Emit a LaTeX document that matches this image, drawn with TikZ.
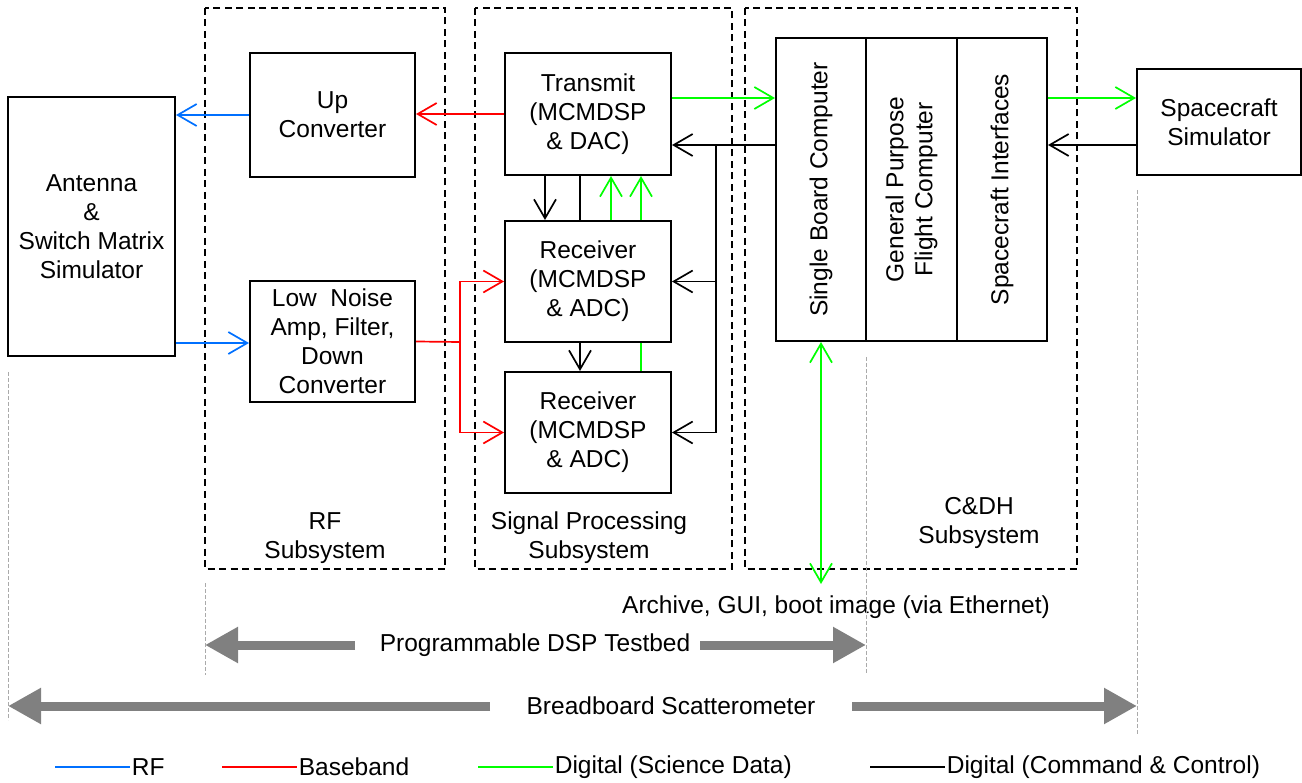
\documentclass[tikz,border=0pt]{standalone}
\usepackage{fontspec}
\setmainfont{Liberation Sans}
\usetikzlibrary{arrows.meta,positioning,calc}
\definecolor{rfblue}{RGB}{0,112,255}
\definecolor{bbred}{RGB}{255,0,0}
\definecolor{sdgreen}{RGB}{0,255,0}
\definecolor{bargray}{RGB}{128,128,128}
\definecolor{guidegray}{RGB}{170,170,170}

\begin{document}
\begin{tikzpicture}[x=1pt, y=-1pt, font=\fontsize{24.5}{29}\selectfont,
  >={Straight Barb[length=19pt,width=22pt]},
  b/.style={rectangle, draw, line width=2pt, align=center, inner sep=0pt},
  sub/.style={draw, line width=1.8pt, dash pattern=on 7pt off 4.5pt},
  rf/.style={draw=rfblue, line width=1.7pt},
  bb/.style={draw=bbred, line width=1.7pt},
  sd/.style={draw=sdgreen, line width=1.7pt},
  cc/.style={draw=black, line width=1.7pt},
  guide/.style={draw=guidegray, line width=0.9pt, dash pattern=on 4pt off 2pt},
  bar/.style={draw=bargray, line width=9pt, -{Triangle[length=33pt,width=34pt]}},
  lg/.style={right, inner sep=1pt}]
  \useasboundingbox (0,0) rectangle (1302,783);

  \draw[sub] (205,8) rectangle (445,569);
  \draw[sub] (475,8) rectangle (732,569);
  \draw[sub] (745,8) rectangle (1077,569);
  \node[align=center] (rfsub) at (325,538) {RF\\Subsystem};
  \node[align=center] (spsub) at (589,538) {Signal Processing\\Subsystem};
  \node[align=center] (cdhsub) at (979,523) {C\&DH\\Subsystem};

  \node[b, minimum width=167pt, minimum height=259pt] (ant) at (91.5,226.5)
       {Antenna\\\&\\Switch Matrix\\Simulator};
  \node[b, minimum width=165pt, minimum height=124pt] (upc) at (332.5,115)
       {Up\\Converter};
  \node[b, minimum width=165pt, minimum height=121pt] (lna) at (332.5,341.5)
       {Low\ \ Noise\\Amp, Filter,\\Down\\Converter};
  \node[b, minimum width=166pt, minimum height=122pt] (tx) at (588,114)
       {Transmit\\(MCMDSP\\\& DAC)};
  \node[b, minimum width=166pt, minimum height=121pt] (rx1) at (588,281.5)
       {Receiver\\(MCMDSP\\\& ADC)};
  \node[b, minimum width=166pt, minimum height=121pt] (rx2) at (588,432.5)
       {Receiver\\(MCMDSP\\\& ADC)};
  \node[b, minimum width=90pt, minimum height=303pt] (sbc) at (821,189.5) {};
  \node[b, minimum width=91pt, minimum height=303pt] (gpc) at (911.5,189.5) {};
  \node[b, minimum width=90pt, minimum height=303pt] (sci) at (1002,189.5) {};
  \node[rotate=90] at (sbc.center) {Single Board Computer};
  \node[rotate=90, align=center] at (gpc.center) {General Purpose\\Flight Computer};
  \node[rotate=90] at (sci.center) {Spacecraft Interfaces};
  \node[b, minimum width=164pt, minimum height=106pt] (scs) at (1219,122)
       {Spacecraft\\Simulator};

  \draw[rf,->] (upc.west) -- (upc.west -| ant.east);
  \draw[rf,->] ([yshift=-1.5pt]lna.west -| ant.east) -- ([yshift=-1.5pt]lna.west);
  \draw[bb,->] (tx.west) -- (tx.west -| upc.east);
  \coordinate (split) at (460,342);
  \draw[bb] (lna.east) -- (split);
  \draw[bb,->] (split) |- (rx1.west);
  \draw[bb,->] (split) |- (rx2.west);

  \draw[sd,->] ([yshift=16pt]tx.east) -- ([yshift=16pt]tx.east -| sbc.west);
  \draw[cc,->] ([yshift=-31pt]tx.east -| sbc.west) -- ([yshift=-31pt]tx.east);
  \coordinate (ccbus) at (716,145);
  \draw[cc,->] (ccbus) |- (rx2.east);
  \draw[cc,->] (ccbus |- rx1.east) -- (rx1.east);

  \draw[cc,->] ([xshift=-43pt]tx.south) -- ([xshift=-43pt]rx1.north);
  \draw[cc] ([xshift=-8pt]tx.south) -- ([xshift=-8pt]rx1.north);
  \draw[sd,->] ([xshift=23pt]rx1.north) -- ([xshift=23pt]tx.south);
  \draw[sd,->] ([xshift=53pt]rx1.north) -- ([xshift=53pt]tx.south);
  \draw[cc,->] ([xshift=-8pt]rx1.south) -- ([xshift=-8pt]rx2.north);
  \draw[sd] ([xshift=53pt]rx1.south) -- ([xshift=53pt]rx2.north);

  \draw[sd,->] ([yshift=24pt]scs.west -| sci.east) -- ([yshift=24pt]scs.west);
  \draw[cc,->] ([yshift=-23pt]scs.west) -- ([yshift=-23pt]scs.west -| sci.east);

  \node (eth) at (836,607) {Archive, GUI, boot image (via Ethernet)};
  \coordinate (ethtop) at (821,584);
  \draw[sd,<->] (sbc.south) -- (ethtop);

  \draw[guide] (8,372) -- (8,720);
  \draw[guide] (205,583) -- (205,675);
  \draw[guide] (866,357) -- (866,673);
  \draw[guide] (1137,190) -- (1137,735);

  \node (pdt) at (535,645) {Programmable DSP Testbed};
  \draw[bar] (355,645) -- (205,645);
  \draw[bar] (700,645) -- (866,645);
  \node (bbs) at (671,706) {Breadboard Scatterometer};
  \draw[bar] (490,706) -- (8,706);
  \draw[bar] (852,706) -- (1137,706);

  \draw[rf] (55,767) -- (130,767) node[lg] (lrf) {RF};
  \draw[bb] (222,767) -- (297,767) node[lg] (lbb) {Baseband};
  \draw[sd] (478,767) -- (553,767) node[lg] (lsd) {Digital (Science Data)};
  \draw[cc] (870,767) -- (945,767) node[lg] (lcc) {Digital (Command \& Control)};
\end{tikzpicture}
\end{document}
